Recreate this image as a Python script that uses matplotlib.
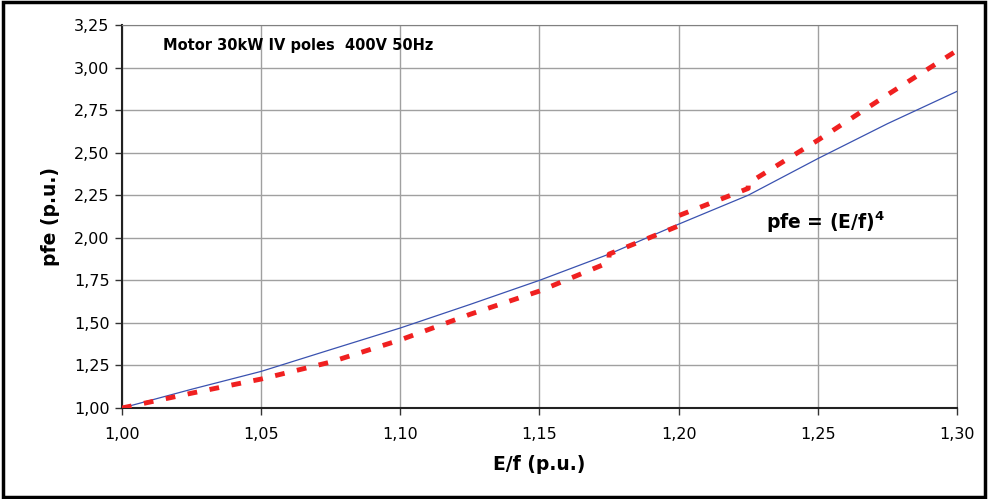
import matplotlib.pyplot as plt
from matplotlib.patches import Rectangle
from matplotlib.ticker import FuncFormatter

ef_meas = [1.000, 1.025, 1.050, 1.075, 1.100, 1.125, 1.150, 1.175, 1.200, 1.225, 1.250, 1.275, 1.300]
pfe_meas = [1.00, 1.11, 1.215, 1.343, 1.47, 1.608, 1.75, 1.904, 2.08, 2.25, 2.465, 2.67, 2.86]

# red dashed curve, with the small steps at 1.175, 1.20 and 1.225
ef_fit = [1.000, 1.025, 1.050, 1.075, 1.100, 1.125, 1.150, 1.175, 1.175, 1.200, 1.200,
          1.225, 1.225, 1.250, 1.275, 1.300]
pfe_fit = [1.00, 1.087, 1.17, 1.27, 1.40, 1.55, 1.687, 1.856, 1.904, 2.07, 2.13,
           2.29, 2.32, 2.573, 2.84, 3.10]

x_ticks = [1.00, 1.05, 1.10, 1.15, 1.20, 1.25, 1.30]
y_ticks = [1.00, 1.25, 1.50, 1.75, 2.00, 2.25, 2.50, 2.75, 3.00, 3.25]

plt.rcParams['font.family'] = ['DejaVu Sans']

fig = plt.figure(figsize=(9.88, 4.99), dpi=100)
ax = fig.add_axes([0.1235, 0.1824, 0.8451, 0.7675])

ax.plot(ef_meas, pfe_meas, color='#3a52b0', linewidth=0.9, zorder=3)
ax.plot(ef_fit, pfe_fit, color='#f02020', linewidth=3.5, dashes=(2.0, 2.6), zorder=4)

ax.set_xlim(1.00, 1.30)
ax.set_ylim(1.00, 3.25)
ax.set_xticks(x_ticks)
ax.set_yticks(y_ticks)
comma = FuncFormatter(lambda v, p: f"{v:.2f}".replace('.', ','))
ax.xaxis.set_major_formatter(comma)
ax.yaxis.set_major_formatter(comma)
ax.tick_params(labelsize=11.5, length=5, width=1, color='#333333', pad=4)
ax.tick_params(axis='x', pad=9)

ax.grid(True, color='#a0a0a0', linewidth=1)
ax.set_axisbelow(True)
for side in ['top', 'right']:
    ax.spines[side].set_color('#808080')
for side in ['left', 'bottom']:
    ax.spines[side].set_color('#222222')
    ax.spines[side].set_linewidth(1.5)

ax.set_xlabel("E/f (p.u.)", fontsize=13.5, fontweight='bold', labelpad=9)
ax.set_ylabel("pfe (p.u.)", fontsize=13.5, fontweight='bold', labelpad=10)

ax.text(1.0147, 3.105, "Motor 30kW IV poles  400V 50Hz", fontsize=10.5,
        fontweight='bold', va='baseline', ha='left')
ax.text(1.2314, 2.051, r"pfe = (E/f)$^\mathbf{4}$", fontsize=13.5,
        fontweight='bold', va='baseline', ha='left')

# black frame around the whole picture
fig.patches.append(Rectangle((0.003, 0.005), 0.994, 0.99, transform=fig.transFigure,
                             fill=False, edgecolor='black', linewidth=2.5))

fig.savefig("out.png", dpi=100)
